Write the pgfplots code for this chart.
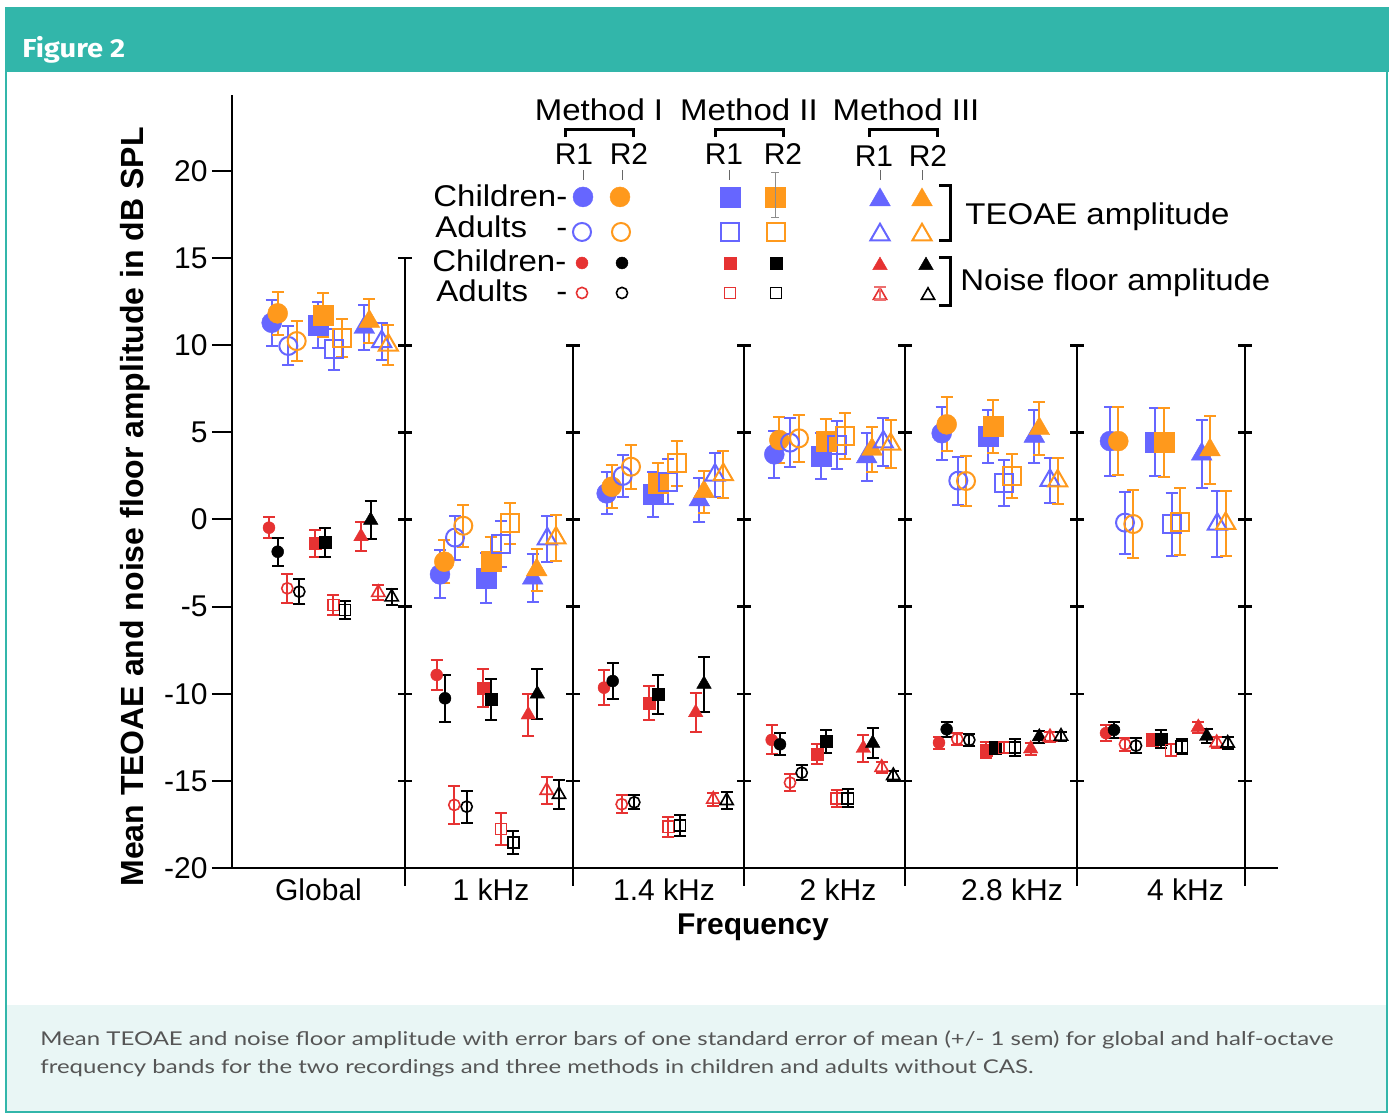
\documentclass[border=0pt]{standalone}
\usepackage{fontspec}
\setmainfont{Liberation Sans}
\newfontfamily\figfont{Fira Sans}
\newfontfamily\capfont{Lato}
\usepackage{pgfplots}
\pgfplotsset{compat=1.18}
\definecolor{cTeal}{RGB}{50,182,170}
\definecolor{cCap}{RGB}{233,246,245}
\definecolor{cB}{RGB}{102,102,255}
\definecolor{cO}{RGB}{255,153,28}
\definecolor{cR}{RGB}{230,50,50}
\definecolor{cCapText}{RGB}{85,85,85}
\pgfplotsset{
 mkF/.style n args={3}{only marks, color=#1, mark=#2, mark size=#3, mark options={solid, fill=#1, draw=#1, line width=0.2pt}},
 mkO/.style n args={4}{only marks, color=#1, mark=#2, mark size=#3, mark options={solid, fill=none, draw=#1, line width=#4}},
 cBF/.style={mkF={cB}{*}{5pt}},
 cOF/.style={mkF={cO}{*}{5pt}},
 cBO/.style={mkO={cB}{o}{4.5pt}{1pt}},
 cOO/.style={mkO={cO}{o}{4.5pt}{1pt}},
 sBF/.style={mkF={cB}{square*}{5pt}},
 sOF/.style={mkF={cO}{square*}{5pt}},
 sBO/.style={mkO={cB}{square}{4.5pt}{1pt}},
 sOO/.style={mkO={cO}{square}{4.5pt}{1pt}},
 tBF/.style={mkF={cB}{triangle*}{6pt}},
 tOF/.style={mkF={cO}{triangle*}{6pt}},
 tBO/.style={mkO={cB}{triangle}{5.5pt}{1pt}},
 tOO/.style={mkO={cO}{triangle}{5.5pt}{1pt}},
 ncRF/.style={mkF={cR}{*}{3pt}},
 ncKF/.style={mkF={black}{*}{3pt}},
 ncRO/.style={mkO={cR}{o}{2.8pt}{0.8pt}},
 ncKO/.style={mkO={black}{o}{2.8pt}{0.8pt}},
 nsRF/.style={mkF={cR}{square*}{3pt}},
 nsKF/.style={mkF={black}{square*}{3pt}},
 nsRO/.style={mkO={cR}{square}{2.8pt}{0.8pt}},
 nsKO/.style={mkO={black}{square}{2.8pt}{0.8pt}},
 ntRF/.style={mkF={cR}{triangle*}{4.2pt}},
 ntKF/.style={mkF={black}{triangle*}{4.2pt}},
 ntRO/.style={mkO={cR}{triangle}{3.8pt}{0.8pt}},
 ntKO/.style={mkO={black}{triangle}{3.8pt}{0.8pt}},
 eb/.style={error bars/.cd, y dir=both, y explicit, error bar style={line width=1pt, color=#1, solid}, error mark options={rotate=90, mark size=3pt, line width=1pt, color=#1}},
}
\newcommand{\lt}[1]{\scalebox{1.1}[1]{#1}}
\newsavebox\capA
\begin{document}
\sbox\capA{\color{cCapText}\capfont\fontsize{9.5pt}{11pt}\selectfont Mean TEOAE and noise floor amplitude with error bars of one standard error of mean (+/- 1 sem) for global and half-octave}%
\pgfmathsetmacro\capscale{646.5/\the\wd\capA}%
\begin{tikzpicture}
\begin{scope}[x=0.5pt,y=-0.5pt]
 \fill[white] (0,0) rectangle (1389,1114);
 \fill[cCap] (7,1005) rectangle (1386,1111);
 \draw[cTeal, line width=1.2pt] (6,72) -- (6,1112) -- (1387,1112) -- (1387,72);
 \fill[cTeal] (5,7) rectangle (1389,72);
 \node[anchor=base west, inner sep=0, text=white] at (22,57) {\scalebox{1.12}[1]{\figfont\bfseries\fontsize{13}{15}\selectfont Figure 2}};
 \node[anchor=base west, inner sep=0, text=cCapText] at (40,1045) {\scalebox{\capscale}[1]{\usebox\capA}};
 \node[anchor=base west, inner sep=0, text=cCapText] at (40,1073) {\scalebox{\capscale}[1]{\capfont\fontsize{9.5pt}{11pt}\selectfont frequency bands for the two recordings and three methods in children and adults without CAS.}};
\end{scope}
\begin{axis}[
 at={(116pt,-434pt)}, anchor=south west,
 scale only axis, width=523pt, height=386.5pt,
 xmin=232, xmax=1278, ymin=-20, ymax=24.36,
 clip=false,
 axis x line*=bottom, axis y line*=left,
 axis line style={line width=0.8pt, black},
 ytick={-20,-15,...,20},
 yticklabels={-20,-15,-10,-5,0,5,10,15,20},
 tick align=outside, major tick length=10pt,
 ytick style={line width=1pt, black},
 xtick={318.5,491,664,838,1012,1185.5},
 xticklabels={Global,1 kHz,1.4 kHz,2 kHz,2.8 kHz,4 kHz},
 xtick style={draw=none},
 tick label style={font=\fontsize{15}{18}\selectfont},
 yticklabel style={inner sep=2pt},
 xticklabel style={anchor=base, inner sep=0pt, yshift=-6pt},
]
% ---------- TEOAE circles
\addplot[cBF, eb=cB] table[x=x,y=y,y error=e]{
x y e
271.7 11.29 1.31
440 -3.15 1.38
606.7 1.50 1.21
774.3 3.74 1.34
941.7 4.95 1.53
1110 4.50 1.98
};
\addplot[cOF, eb=cO] table[x=x,y=y,y error=e]{
x y e
277.7 11.83 1.24
444.3 -2.42 1.24
611.7 1.88 1.22
779.3 4.56 1.31
946.7 5.46 1.55
1118.3 4.50 1.94
};
\addplot[cBO, eb=cB] table[x=x,y=y,y error=e]{
x y e
288.3 9.96 1.12
455 -1.04 1.26
622.7 2.50 1.21
790 4.41 1.41
958.3 2.23 1.37
1125 -0.18 1.78
};
\addplot[cOO, eb=cO] table[x=x,y=y,y error=e]{
x y e
296.7 10.24 1.13
463.3 -0.36 1.22
631 3.03 1.26
799 4.66 1.36
966 2.21 1.42
1133.3 -0.26 1.94
};
% ---------- TEOAE squares
\addplot[sBF, eb=cB] table[x=x,y=y,y error=e]{
x y e
318.3 11.16 1.34
486 -3.37 1.43
653.3 1.45 1.28
820.7 3.64 1.34
988.3 4.79 1.52
1155 4.46 1.96
};
\addplot[sOF, eb=cO] table[x=x,y=y,y error=e]{
x y e
323.3 11.74 1.24
490.7 -2.42 1.40
657.7 2.07 1.20
825.7 4.52 1.26
993.3 5.33 1.51
1164 4.41 1.98
};
\addplot[sBO, eb=cB] table[x=x,y=y,y error=e]{
x y e
334 9.77 1.18
501 -1.41 1.34
668.3 2.17 1.29
836.7 4.28 1.39
1004 2.07 1.32
1171.7 -0.28 1.80
};
\addplot[sOO, eb=cO] table[x=x,y=y,y error=e]{
x y e
342.3 10.43 1.10
510 -0.22 1.18
676.7 3.22 1.28
845 4.79 1.33
1012.3 2.51 1.26
1180 -0.13 1.93
};
% ---------- TEOAE triangles
\addplot[tBF, eb=cB] table[x=x,y=y,y error=e]{
x y e
364.3 11.02 1.29
532.7 -3.37 1.39
699.3 1.12 1.24
866.7 3.59 1.39
1034.3 4.77 1.51
1201.7 3.75 1.96
};
\addplot[tOF, eb=cO] table[x=x,y=y,y error=e]{
x y e
369.3 11.37 1.26
536.7 -2.89 1.20
704 1.60 1.20
872 4.03 1.29
1039.3 5.21 1.51
1210 3.99 1.96
};
\addplot[tBO, eb=cB] table[x=x,y=y,y error=e]{
x y e
381.7 10.21 1.05
547.3 -1.11 1.31
715 2.55 1.26
883.3 4.45 1.36
1050 2.24 1.31
1217.3 -0.27 1.90
};
\addplot[tOO, eb=cO] table[x=x,y=y,y error=e]{
x y e
388.3 10.01 1.15
556 -1.06 1.32
723.3 2.58 1.37
890.7 4.32 1.39
1057.7 2.22 1.33
1225.7 -0.22 1.85
};
% ---------- Noise circles
\addplot[ncRF, eb=cR] table[x=x,y=y,y error=e]{
x y e
269 -0.47 0.60
436.7 -8.92 0.86
604 -9.65 1.02
771.7 -12.65 0.83
939 -12.81 0.34
1106 -12.26 0.45
};
\addplot[ncKF, eb=black] table[x=x,y=y,y error=e]{
x y e
277.7 -1.85 0.81
445 -10.26 1.34
612.7 -9.27 1.05
780 -12.90 0.64
946.7 -12.04 0.43
1114 -12.08 0.45
};
\addplot[ncRO, eb=cR] table[x=x,y=y,y error=e]{
x y e
287.3 -3.95 0.82
454.3 -16.38 1.11
621.7 -16.34 0.53
790 -15.10 0.48
957.3 -12.60 0.34
1125 -12.90 0.36
};
\addplot[ncKO, eb=black] table[x=x,y=y,y error=e]{
x y e
299.3 -4.14 0.73
466.7 -16.48 0.91
634.3 -16.23 0.41
801.7 -14.53 0.43
969.3 -12.65 0.33
1136 -12.98 0.43
};
% ---------- Noise squares
\addplot[nsRF, eb=cR] table[x=x,y=y,y error=e]{
x y e
315 -1.37 0.78
482.7 -9.69 1.09
649.3 -10.55 0.98
817.3 -13.46 0.56
985.7 -13.23 0.46
1151.7 -12.65 0.32
};
\addplot[nsKF, eb=black] table[x=x,y=y,y error=e]{
x y e
325 -1.31 0.83
491 -10.32 1.17
658.3 -10.03 1.12
826 -12.75 0.65
995 -13.10 0.34
1160.7 -12.61 0.53
};
\addplot[nsRO, eb=cR] table[x=x,y=y,y error=e]{
x y e
333.3 -4.91 0.55
501 -17.76 0.91
668.3 -17.63 0.57
836.7 -16.00 0.48
1004 -13.10 0.32
1171 -13.23 0.34
};
\addplot[nsKO, eb=black] table[x=x,y=y,y error=e]{
x y e
345 -5.19 0.52
513.3 -18.53 0.68
680 -17.57 0.62
847.7 -16.00 0.52
1015 -13.08 0.47
1181.7 -13.04 0.43
};
% ---------- Noise triangles
\addplot[ntRF, eb=cR] table[x=x,y=y,y error=e]{
x y e
361 -0.98 0.81
528.3 -11.21 1.20
695.7 -11.08 1.14
863.3 -13.13 0.77
1030.7 -13.16 0.35
1198.3 -11.92 0.32
};
\addplot[ntKF, eb=black] table[x=x,y=y,y error=e]{
x y e
370.7 -0.04 1.10
537.3 -10.01 1.43
704 -9.45 1.58
872.7 -12.84 0.86
1039.3 -12.47 0.34
1206.7 -12.44 0.40
};
\addplot[ntRO, eb=cR] table[x=x,y=y,y error=e]{
x y e
378.3 -4.19 0.43
546.7 -15.55 0.79
713.3 -16.06 0.38
881.7 -14.23 0.30
1050 -12.48 0.30
1216.7 -12.81 0.32
};
\addplot[ntKO, eb=black] table[x=x,y=y,y error=e]{
x y e
391.7 -4.45 0.45
559 -15.78 0.83
726.7 -16.14 0.48
893.3 -14.70 0.29
1061 -12.44 0.26
1227.7 -12.84 0.34
};
% ---------- legend markers
\addplot[cBF, forget plot] coordinates {(583,18.51)};
\addplot[cOF, forget plot] coordinates {(620,18.51)};
\addplot[sBF, forget plot] coordinates {(730,18.51)};
\addplot[sOF, forget plot] coordinates {(775,18.51)};
\addplot[tBF, forget plot] coordinates {(880,18.34)};
\addplot[tOF, forget plot] coordinates {(922,18.34)};
\addplot[cBO, forget plot] coordinates {(582,16.50)};
\addplot[cOO, forget plot] coordinates {(621,16.50)};
\addplot[sBO, forget plot] coordinates {(730,16.50)};
\addplot[sOO, forget plot] coordinates {(776,16.50)};
\addplot[tBO, forget plot] coordinates {(880,16.34)};
\addplot[tOO, forget plot] coordinates {(922,16.34)};
\addplot[ncRF, forget plot] coordinates {(582,14.72)};
\addplot[ncKF, forget plot] coordinates {(622,14.72)};
\addplot[nsRF, forget plot] coordinates {(730,14.72)};
\addplot[nsKF, forget plot] coordinates {(776,14.72)};
\addplot[ntRF, forget plot] coordinates {(880,14.58)};
\addplot[ntKF, forget plot] coordinates {(926,14.58)};
\addplot[ncRO, forget plot] coordinates {(582,13.00)};
\addplot[ncKO, forget plot] coordinates {(622,13.00)};
\addplot[nsRO, forget plot] coordinates {(730,13.00)};
\addplot[nsKO, forget plot] coordinates {(776,13.00)};
\addplot[ntRO, forget plot] coordinates {(880,12.86)};
\addplot[ntKO, forget plot] coordinates {(928,12.86)};
\end{axis}
\begin{scope}[x=0.5pt,y=-0.5pt]
 % separators
 \draw[line width=0.7pt] (405,258.1) -- (405,886);
 \foreach \yy in {258.1,345.3,432.4,519.5,606.6,693.75,780.9}
   \draw[line width=1.2pt] (398,\yy) -- (412,\yy);
 \foreach \xs in {573,744,905,1077,1245} {
   \draw[line width=0.7pt] (\xs,345.3) -- (\xs,886);
   \foreach \yy in {345.3,432.4,519.5,606.6,693.75,780.9}
     \draw[line width=1.2pt] (\xs-7,\yy) -- (\xs+7,\yy);
 }
 % axis titles
 \node[rotate=90] at (135,507) {\bfseries\fontsize{16}{18}\selectfont Mean TEOAE and noise floor amplitude in dB SPL};
 \node at (753,927) {\bfseries\fontsize{15}{18}\selectfont Frequency};
 % legend header
 \begin{scope}[every node/.style={inner sep=0pt, font=\fontsize{15}{18}\selectfont}]
 \node[anchor=base] at (599,120) {\lt{Method I}};
 \node[anchor=base] at (749,120) {\lt{Method II}};
 \node[anchor=base] at (906,120) {\lt{Method III}};
 \node[anchor=base] at (574,164) {R1};
 \node[anchor=base] at (629,164) {R2};
 \node[anchor=base] at (724,164) {R1};
 \node[anchor=base] at (783,164) {R2};
 \node[anchor=base] at (874,166) {R1};
 \node[anchor=base] at (928,166) {R2};
 \node[anchor=base west] at (433,206) {\lt{Children-}};
 \node[anchor=base west] at (435,237) {\lt{Adults}};
 \node[anchor=base west] at (556,237) {\lt{-}};
 \node[anchor=base west] at (432,271) {\lt{Children-}};
 \node[anchor=base west] at (436,301) {\lt{Adults}};
 \node[anchor=base west] at (556,301) {\lt{-}};
 \node[anchor=base west] at (965,224) {\lt{TEOAE amplitude}};
 \node[anchor=base west] at (960,290) {\lt{Noise floor amplitude}};
 \end{scope}
 \draw[line width=1.5pt] (565,137) -- (565,129) -- (633,129) -- (633,137);
 \draw[line width=1.5pt] (715,137) -- (715,129) -- (783,129) -- (783,137);
 \draw[line width=1.5pt] (869,137) -- (869,129) -- (937,129) -- (937,137);
 \draw[line width=1.5pt] (939,185) -- (950,185) -- (950,240) -- (939,240);
 \draw[line width=1.5pt] (939,257) -- (950,257) -- (950,305) -- (939,305);
 \draw[black!60, line width=0.5pt] (583,170) -- (583,180) (622,170) -- (622,180) (729,170) -- (729,180) (880,170) -- (880,180) (922,170) -- (922,180);
 \draw[black!45, line width=0.5pt] (775,172) -- (775,217) (771,172) -- (779,172) (771,217) -- (779,217);
 \draw[cR!70, line width=0.6pt] (874,287) -- (886,287) (874,300) -- (886,300) (880,287) -- (880,300);
\end{scope}
\pgfresetboundingbox
\path[use as bounding box] (0,0) rectangle (694.5pt,-557pt);
\end{tikzpicture}
\end{document}
